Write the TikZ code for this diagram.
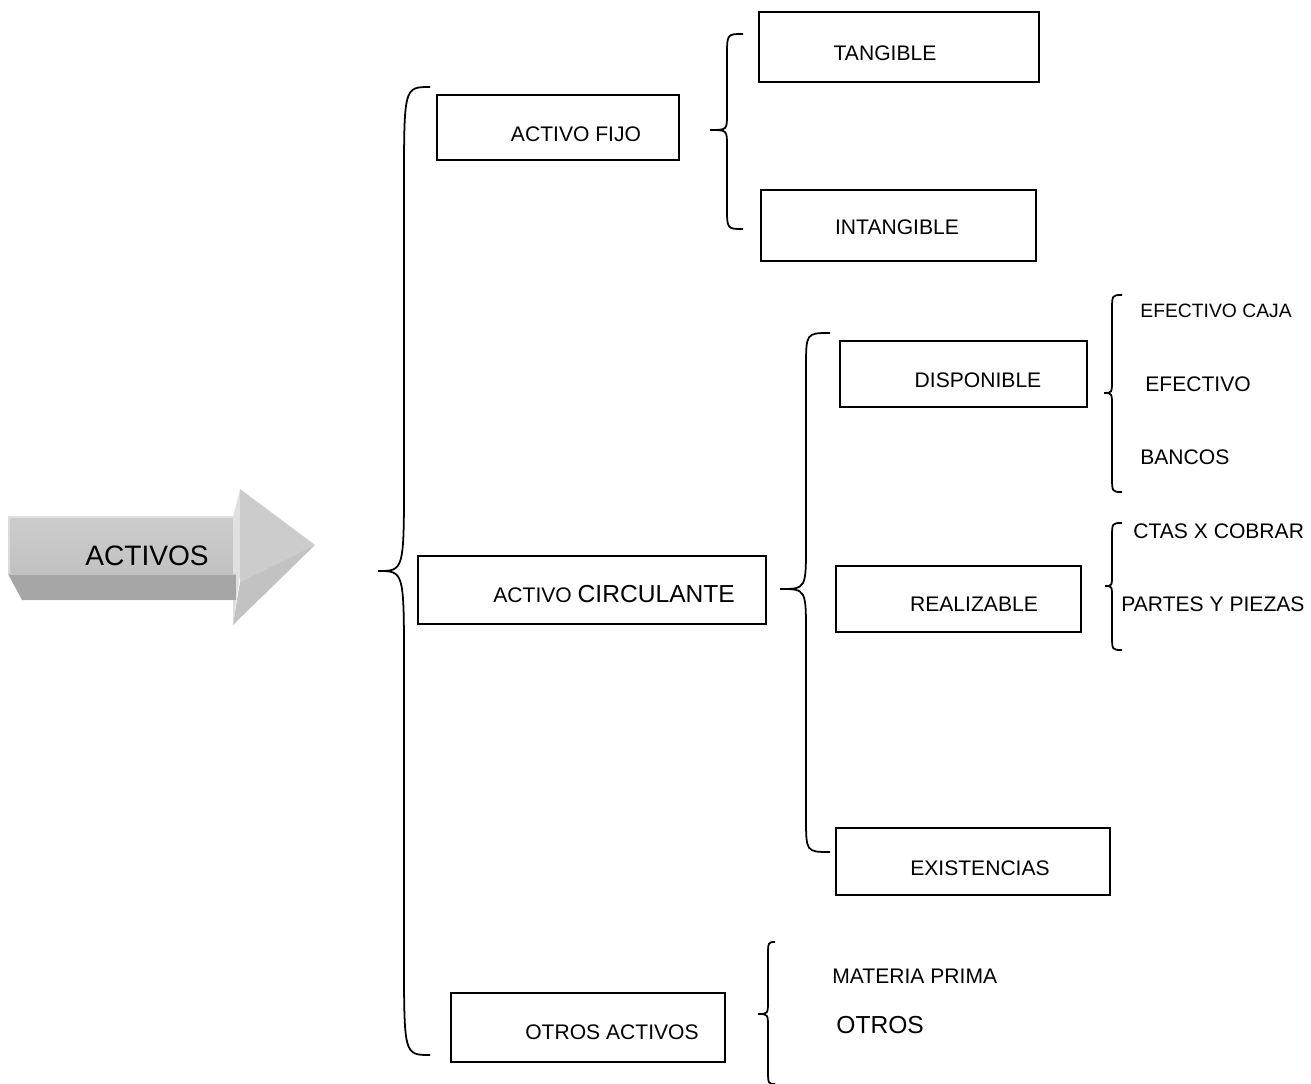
\documentclass[tikz,border=0pt]{standalone}
\usepackage{fontspec}
\setmainfont{Liberation Sans}
\newcommand{\drawbrace}[8]{%
  \draw[brc] (#1,#4) .. controls (#2,#4) .. (#2,#4+#7) -- (#2,#5-#8) .. controls (#2,#5) .. (#3,#5)
    .. controls (#2,#5) .. (#2,#5+#8) -- (#2,#6-#7) .. controls (#2,#6) .. (#1,#6);}
\begin{document}
\begin{tikzpicture}[x=0.02cm,y=-0.02cm,
  box/.style={draw=black,line width=1pt},
  brc/.style={draw=black,line width=1pt},
  lbl/.style={inner sep=0pt,font=\fontsize{12}{14}\selectfont},
  lblS/.style={lbl,font=\fontsize{11}{13}\selectfont},
  lblL/.style={lbl,font=\fontsize{14}{16}\selectfont}]
\useasboundingbox (0,0) rectangle (1311,1084);

% arrow
\fill[black!35] (8,574) -- (22,600) -- (236,600) -- (236,574) -- cycle;
\shade[top color=black!20,bottom color=black!24] (8,517) rectangle (238,574);
\draw[black!12,line width=0.8pt] (8,517) -- (238,517);
\draw[black!14,line width=0.8pt] (9,517) -- (9,574);
\fill[black!12] (233,517) -- (240,489) -- (240,575) -- (233,625) -- (233,600) -- (236,600) -- (236,574) -- (233,574) -- cycle;
\fill[black!20] (240,489) -- (315,545) -- (240,582) -- cycle;
\fill[black!24] (240,582) -- (315,545) -- (233,625) -- cycle;
\node[lbl,font=\fontsize{16}{18}\selectfont] (act) at (147,556) {ACTIVOS};

% boxes
\draw[box] (759,12) rectangle (1039,82);
\node[lbl] (tang) at (885,53) {TANGIBLE};
\draw[box] (437,95) rectangle (679,160);
\node[lbl] (fijo) at (576,134) {ACTIVO FIJO};
\draw[box] (761,190) rectangle (1036,261);
\node[lbl] (intang) at (897,227) {INTANGIBLE};
\draw[box] (840,341) rectangle (1087,407);
\node[lbl] (disp) at (978,380) {DISPONIBLE};
\draw[box] (418,556) rectangle (766,624);
\node[lbl,anchor=base west] (circ) at (493,602) {ACTIVO {\fontsize{14}{16}\selectfont CIRCULANTE}};
\draw[box] (836,566) rectangle (1081,632);
\node[lbl] (realiz) at (974,604) {REALIZABLE};
\draw[box] (836,828) rectangle (1110,895);
\node[lbl] (exist) at (980,868) {EXISTENCIAS};
\draw[box] (451,993) rectangle (725,1062);
\node[lbl] (otrosact) at (612,1032) {OTROS ACTIVOS};

% free texts
\node[lblS,anchor=west] (caja) at (1140,311) {EFECTIVO CAJA};
\node[lbl,anchor=west] (efec) at (1145,384) {EFECTIVO};
\node[lbl,anchor=west] (bancos) at (1140,457) {BANCOS};
\node[lbl,anchor=west] (ctas) at (1133,531) {CTAS X COBRAR};
\node[lbl,anchor=west] (partes) at (1121,604) {PARTES Y PIEZAS};
\node[lbl,anchor=west] (mprima) at (832,976) {MATERIA PRIMA};
\node[lblL,anchor=west] (otros) at (836,1025) {OTROS};

% braces
\drawbrace{430}{404}{378}{87}{571}{1055}{100}{95}
\drawbrace{743}{727}{710}{34}{130}{229}{22}{16}
\drawbrace{1122}{1112}{1104}{295}{393}{492}{16}{14}
\drawbrace{1122}{1112}{1105}{523}{586}{650}{15}{12}
\drawbrace{830}{806}{780}{333}{589}{852}{35}{45}
\drawbrace{775}{768}{758}{942}{1014}{1084}{16}{14}
\end{tikzpicture}
\end{document}
